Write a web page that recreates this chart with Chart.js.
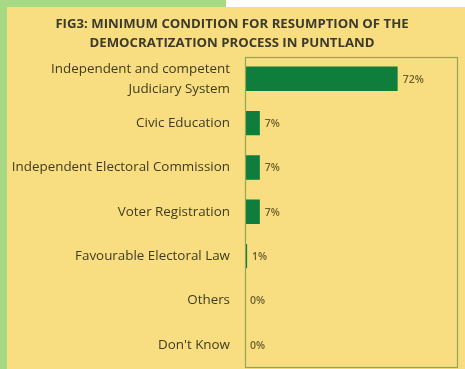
<!DOCTYPE html>
<html>
<head>
<meta charset="utf-8">
<script src="https://cdn.jsdelivr.net/npm/chart.js@4.4.1/dist/chart.umd.min.js"></script>
<style>
  html, body { margin: 0; padding: 0; background: #ffffff; }
  #frame { position: absolute; left: 0; top: 0; width: 465px; height: 369px; background: #ffffff; overflow: hidden; }
  #strip { position: absolute; left: 0; top: 0; width: 226px; height: 369px; background: #a5d983; }
  #panel { position: absolute; left: 7px; top: 7px; width: 458px; height: 362px; background: #f8de80; }
  canvas { display: block; }
</style>
</head>
<body>
<div id="frame">
  <div id="strip"></div>
  <div id="panel"><canvas id="chart" width="458" height="362"></canvas></div>
</div>
<script>
// Survey answers: minimum condition for resuming the democratization process
const categories = [
  ["Independent and competent", "Judiciary System"],
  "Civic Education",
  "Independent Electoral Commission",
  "Voter Registration",
  "Favourable Electoral Law",
  "Others",
  "Don't Know"
];
const shares = [72, 7, 7, 7, 1, 0, 0];
const shareLabels = ["72%", "7%", "7%", "7%", "1%", "0%", "0%"];
const titleLines = [
  "FIG3: MINIMUM CONDITION FOR RESUMPTION OF THE",
  "DEMOCRATIZATION PROCESS IN PUNTLAND"
];

const FONT = "'Open Sans', 'DejaVu Sans', sans-serif";

// Box around the plotting area
const plotFrame = {
  id: 'plotFrame',
  afterDraw(chart) {
    const a = chart.chartArea, ctx = chart.ctx;
    ctx.save();
    ctx.strokeStyle = '#93a651';
    ctx.lineWidth = 1.2;
    ctx.strokeRect(Math.round(a.left) + 0.5, Math.round(a.top) + 0.5,
                   Math.round(a.right - a.left), Math.round(a.bottom - a.top));
    ctx.restore();
  }
};

// Percentage text to the right of each bar
const valueText = {
  id: 'valueText',
  afterDatasetsDraw(chart) {
    const ctx = chart.ctx;
    const meta = chart.getDatasetMeta(0);
    ctx.save();
    ctx.font = "600 10.5px " + FONT;
    ctx.fillStyle = '#6b5f2e';
    ctx.textAlign = 'left';
    ctx.textBaseline = 'middle';
    meta.data.forEach((bar, i) => {
      ctx.fillText(shareLabels[i], bar.x + 5, bar.y + 1);
    });
    ctx.restore();
  }
};

new Chart(document.getElementById('chart'), {
  type: 'bar',
  data: {
    labels: categories,
    datasets: [{
      data: shares,
      backgroundColor: '#0f7d3b',
      borderWidth: 0,
      barPercentage: 0.55,
      categoryPercentage: 1.0
    }]
  },
  options: {
    indexAxis: 'y',
    responsive: false,
    animation: false,
    layout: { padding: { top: 0, right: 8, bottom: 2, left: 0 } },
    plugins: {
      legend: { display: false },
      tooltip: { enabled: false },
      title: {
        display: true,
        text: titleLines,
        color: '#3b3a2c',
        font: { family: FONT, size: 13.2, weight: 'bold', lineHeight: 1.5 },
        padding: { top: 7, bottom: 3 }
      }
    },
    scales: {
      x: {
        min: 0,
        max: 100,
        display: false,
        grid: { display: false }
      },
      y: {
        grid: { display: false, drawTicks: false },
        border: { display: false },
        ticks: {
          color: '#3e3b22',
          padding: 15,
          font: { family: FONT, size: 13.4, lineHeight: 1.5 }
        },
        afterFit(scale) {
          scale.width = 238;
          scale.paddingTop = 0;
          scale.paddingBottom = 0;
        }
      }
    }
  },
  plugins: [plotFrame, valueText]
});
</script>
</body>
</html>
